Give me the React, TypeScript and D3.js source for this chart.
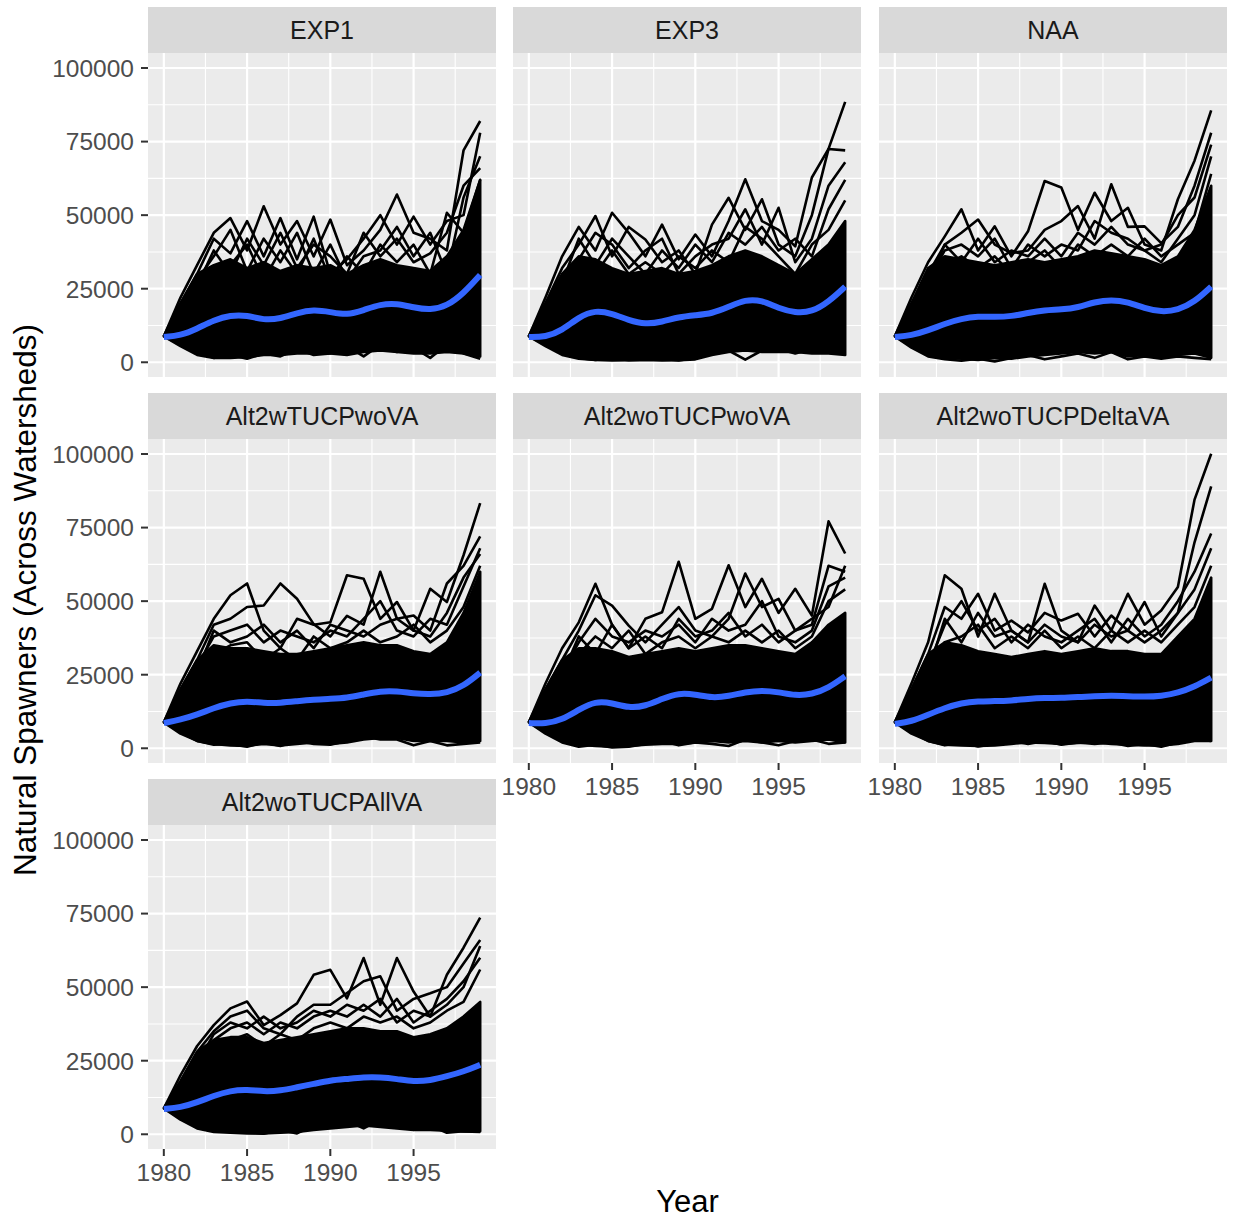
import * as d3 from "d3";

// Year axis shared by all panels
const years = [1980, 1981, 1982, 1983, 1984, 1985, 1986, 1987, 1988, 1989, 1990, 1991, 1992, 1993, 1994, 1995, 1996, 1997, 1998, 1999];

const panelNames = ["EXP1", "EXP3", "NAA", "Alt2wTUCPwoVA", "Alt2woTUCPwoVA", "Alt2woTUCPDeltaVA", "Alt2woTUCPAllVA"];

const yTicks = [0, 25000, 50000, 75000, 100000];
const yMinor = [12500, 37500, 62500, 87500];
const xTicks = [1980, 1985, 1990, 1995];
const xMinor = [1982.5, 1987.5, 1992.5, 1997.5];

// --- EXP1 ---
const exp1Smooth = [8560, 9100, 11400, 14300, 16000, 16000, 14300, 14800, 16800, 17900, 17100, 16000, 17700, 19700, 20000, 18600, 17700, 19100, 23400, 29700];
const exp1Top = [8800, 20000, 30000, 33000, 35000, 32000, 34000, 31000, 33000, 32000, 33000, 30000, 33000, 35000, 33000, 32000, 31000, 36000, 45000, 62000];
const exp1Bottom = [8800, 5500, 2500, 1500, 1500, 1800, 2500, 2500, 3000, 3000, 3000, 2500, 3500, 4000, 3500, 3000, 3000, 3500, 3000, 2000];
const exp1A = [8800, 22000, 33000, 44000, 49000, 38000, 53000, 40000, 48000, 36000, 48500, 33000, 38000, 45000, 57000, 44000, 42000, 38000, 72000, 82000];
const exp1B = [8800, 20000, 30000, 42000, 37000, 48000, 36000, 49000, 35000, 49500, 30000, 35000, 42000, 50000, 40000, 49500, 40000, 48000, 50000, 78000];
const exp1C = [8800, 18000, 28000, 36000, 45000, 31000, 42000, 34000, 44000, 30000, 40000, 28000, 36000, 38000, 46000, 36000, 44000, 30000, 56000, 70000];
const exp1D = [8800, 15000, 22000, 30000, 33000, 40000, 28000, 38000, 30000, 42000, 28000, 36000, 30000, 40000, 34000, 40000, 30000, 50800, 44000, 62000];
const exp1E = [8800, 6000, 3500, 1500, 2500, 1200, 3000, 2000, 4500, 2500, 3000, 5500, 2000, 6000, 3500, 5000, 1500, 6000, 3000, 1200];
const exp1F = [8800, 17000, 26000, 38000, 30000, 42000, 33000, 44000, 32000, 40000, 36000, 30000, 44000, 36000, 42000, 34000, 37000, 44000, 60000, 66000];

// --- EXP3 ---
const exp3Smooth = [8560, 8560, 10800, 15400, 17700, 16550, 14300, 12900, 13700, 15400, 16000, 16550, 18800, 21300, 21100, 18300, 16800, 17100, 20500, 25700];
const exp3Top = [8800, 20000, 30000, 36000, 35000, 32000, 30000, 31000, 32000, 30000, 31000, 33000, 36000, 38000, 36000, 33000, 30000, 35000, 40000, 48000];
const exp3Bottom = [8800, 6000, 3000, 1500, 800, 600, 700, 800, 600, 700, 1000, 2500, 3500, 4000, 3500, 3500, 3500, 3000, 3000, 2500];
const exp3A = [8800, 22000, 36000, 46000, 38000, 50800, 44000, 36000, 46800, 35000, 43400, 36000, 48000, 62200, 48000, 45000, 39400, 62800, 72500, 88500];
const exp3B = [8800, 20000, 32000, 40000, 49700, 36000, 46000, 41700, 34000, 38000, 30000, 46800, 55900, 45000, 55400, 40000, 36000, 50000, 72500, 72000];
const exp3C = [8800, 18000, 28000, 35000, 44000, 40000, 32000, 38000, 42000, 30000, 36000, 40000, 42000, 52000, 40000, 52500, 34000, 42000, 60000, 68000];
const exp3D = [8800, 16000, 25000, 33000, 30000, 38000, 30000, 34000, 30000, 36000, 32000, 38000, 34000, 46000, 42000, 36000, 30000, 40000, 45000, 55000];
const exp3E = [8800, 5500, 2500, 1200, 800, 1500, 700, 1000, 1200, 600, 1500, 3000, 4000, 900, 4000, 4500, 3000, 4500, 3500, 5000];
const exp3F = [8800, 17000, 27000, 42000, 33000, 42000, 36000, 30000, 38000, 32000, 40000, 34000, 44000, 40000, 46000, 38000, 42000, 36000, 52000, 62000];

// --- NAA ---
const naaSmooth = [8560, 9100, 10800, 13100, 14800, 15600, 15400, 15600, 16800, 17700, 17900, 18600, 20500, 21300, 20500, 18300, 17100, 17700, 20500, 25700];
const naaTop = [8800, 20000, 32000, 36000, 35000, 34000, 33000, 34000, 35000, 34000, 35000, 36000, 38000, 37000, 36000, 35000, 33000, 36000, 45000, 60000];
const naaBottom = [8800, 5500, 2500, 1500, 1200, 800, 1500, 1200, 2000, 2500, 3000, 3500, 3000, 3500, 2000, 2500, 1500, 2500, 3000, 1500];
const naaA = [8800, 22000, 34000, 42800, 52000, 38000, 46200, 36000, 44500, 61600, 59400, 45000, 57600, 48000, 52500, 40000, 38000, 55400, 68500, 85600];
const naaB = [8800, 20000, 30000, 40000, 44000, 48500, 40000, 37100, 38000, 45000, 48000, 53100, 42000, 60500, 46000, 46200, 40500, 46000, 60000, 78000];
const naaC = [8800, 18000, 28000, 38000, 40000, 36000, 42000, 32000, 40000, 36000, 40000, 38000, 48000, 44000, 42000, 38000, 34000, 42000, 50000, 70000];
const naaD = [8800, 16000, 24000, 33000, 36000, 32000, 36000, 30000, 34000, 38000, 32000, 40000, 36000, 40000, 36000, 42000, 36000, 40000, 44000, 64000];
const naaE = [8800, 5000, 2000, 1000, 500, 1200, 300, 1500, 2500, 1000, 2000, 3000, 1500, 3500, 1000, 2000, 1200, 2000, 1500, 1000];
const naaF = [8800, 17000, 27000, 40000, 34000, 42000, 34000, 38000, 36000, 42000, 36000, 44000, 40000, 46000, 40000, 38000, 40000, 50000, 56000, 74000];

// --- Alt2wTUCPwoVA ---
const wTucpSmooth = [8560, 9700, 11400, 13700, 15400, 16000, 15400, 15400, 16000, 16550, 16800, 17100, 18300, 19400, 19400, 18600, 18300, 18800, 21100, 25700];
const wTucpTop = [8800, 20000, 30000, 35000, 34000, 34000, 33000, 32000, 32000, 33000, 34000, 35000, 36000, 35000, 35000, 33000, 32000, 36000, 46000, 60000];
const wTucpBottom = [8800, 5500, 2500, 1500, 1000, 800, 1500, 1000, 1500, 2000, 1500, 2000, 3000, 3500, 3500, 2500, 2500, 2500, 2000, 2500];
const wTucpA = [8800, 22000, 33000, 44000, 52000, 56000, 40000, 34000, 44000, 42000, 42800, 58800, 57600, 44000, 49700, 40000, 54200, 49700, 65600, 83300];
const wTucpB = [8800, 20000, 30000, 42000, 44000, 48000, 48500, 56000, 50800, 42200, 38000, 45000, 42000, 60000, 44000, 45100, 40000, 56000, 62000, 72000];
const wTucpC = [8800, 18000, 28000, 38000, 40000, 42000, 36000, 40000, 38000, 36000, 40000, 38000, 44000, 50000, 40000, 38000, 44000, 42000, 55000, 68000];
const wTucpD = [8800, 16000, 24000, 32000, 35000, 36000, 30000, 34000, 30000, 38000, 34000, 36000, 40000, 36000, 38000, 42000, 36000, 40000, 48000, 62000];
const wTucpE = [8800, 5000, 2500, 1200, 1500, 500, 2000, 800, 2500, 1500, 1200, 2500, 4000, 3000, 3000, 1000, 2500, 1000, 1500, 2000];
const wTucpF = [8800, 17000, 26000, 40000, 36000, 38000, 42000, 36000, 40000, 34000, 42000, 40000, 38000, 42000, 44000, 40000, 38000, 46000, 58000, 66000];

// --- Alt2woTUCPwoVA ---
const woTucpSmooth = [8560, 8300, 9700, 13100, 16000, 15400, 13700, 14300, 16800, 18800, 18300, 17100, 17700, 19100, 19700, 19100, 17900, 18300, 20500, 24500];
const woTucpTop = [8800, 20000, 30000, 34000, 34000, 33000, 31000, 32000, 33000, 34000, 33000, 34000, 35000, 35000, 34000, 33000, 32000, 36000, 42000, 46000];
const woTucpBottom = [8800, 5500, 2500, 1200, 800, 500, 800, 1200, 1500, 1500, 2000, 2500, 2000, 2500, 2000, 2500, 2000, 2500, 3000, 2000];
const woTucpA = [8800, 22000, 34000, 42800, 55900, 42000, 34000, 44000, 46200, 63400, 44000, 47400, 62200, 48000, 57600, 46000, 54200, 45100, 77100, 66200];
const woTucpB = [8800, 20000, 30000, 40000, 52000, 48500, 41700, 36000, 42000, 48000, 40000, 38000, 44000, 59400, 48000, 50800, 40000, 42000, 62000, 60000];
const woTucpC = [8800, 18000, 26000, 36000, 44000, 38000, 36000, 40000, 38000, 42000, 36000, 44000, 40000, 42000, 50000, 38000, 36000, 40000, 55000, 58000];
const woTucpD = [8800, 16000, 24000, 32000, 38000, 34000, 40000, 32000, 36000, 38000, 34000, 38000, 36000, 40000, 36000, 40000, 34000, 38000, 50000, 54000];
const woTucpE = [8800, 5000, 2000, 500, 1200, 300, 500, 1500, 2500, 1000, 2000, 1500, 800, 3000, 2000, 1000, 2500, 3000, 1500, 2000];
const woTucpF = [8800, 17000, 25000, 38000, 32000, 42000, 34000, 38000, 34000, 44000, 38000, 40000, 46000, 38000, 42000, 36000, 40000, 44000, 48000, 62000];

// --- Alt2woTUCPDeltaVA ---
const deltaSmooth = [8300, 9100, 11400, 13700, 15400, 16000, 16000, 16200, 16800, 17100, 17100, 17400, 17700, 17900, 17700, 17500, 17700, 18800, 20900, 24000];
const deltaTop = [8800, 20000, 32000, 36000, 35000, 33000, 32000, 31000, 32000, 33000, 32000, 33000, 34000, 33000, 33000, 32000, 32000, 38000, 44000, 58000];
const deltaBottom = [8800, 5500, 2500, 1200, 1000, 800, 1000, 1500, 2000, 1800, 1500, 1800, 2000, 1500, 1200, 1000, 1000, 1500, 2500, 2500];
const deltaA = [8800, 22000, 36000, 58800, 54200, 38000, 52500, 40000, 36000, 55900, 40000, 36000, 48500, 40000, 52500, 42000, 46800, 54800, 84500, 100100];
const deltaB = [8800, 20000, 32000, 48000, 44000, 52500, 40000, 43400, 39400, 46000, 43400, 45700, 38000, 45100, 40000, 49700, 38000, 46000, 70000, 89000];
const deltaC = [8800, 18000, 28000, 42000, 50000, 40000, 44000, 36000, 42000, 38000, 36000, 40000, 44000, 36000, 44000, 38000, 42000, 50000, 60000, 73000];
const deltaD = [8800, 16000, 24000, 36000, 38000, 42000, 34000, 38000, 34000, 40000, 34000, 38000, 34000, 40000, 36000, 40000, 36000, 42000, 48000, 62000];
const deltaE = [8800, 5000, 2500, 1000, 2000, 600, 1500, 2500, 1500, 2500, 1200, 2000, 1500, 2000, 800, 1500, 500, 2000, 3000, 2500];
const deltaF = [8800, 17000, 26000, 44000, 36000, 46000, 38000, 40000, 36000, 42000, 38000, 36000, 42000, 38000, 40000, 36000, 40000, 46000, 54000, 68000];

// --- Alt2woTUCPAllVA ---
const allSmooth = [8560, 9100, 10800, 13100, 14800, 15200, 14500, 14800, 16000, 17100, 18300, 18800, 19400, 19400, 18800, 17900, 18300, 19700, 21300, 23600];
const allTop = [8800, 18000, 28000, 32000, 33000, 33000, 31000, 32000, 33000, 34000, 35000, 36000, 36000, 35000, 35000, 33000, 34000, 36000, 40000, 45000];
const allBottom = [8800, 5500, 2500, 1200, 800, 500, 300, 500, 800, 1500, 2000, 2500, 3000, 2500, 2000, 1500, 1500, 1200, 1000, 1000];
const allA = [8800, 20000, 30000, 37100, 42800, 45100, 37100, 40500, 44500, 54200, 55900, 46200, 59900, 44000, 59900, 48500, 40000, 54200, 63400, 73600];
const allB = [8800, 18000, 28000, 35000, 40000, 42000, 36000, 34000, 40000, 44000, 44000, 48000, 52000, 53700, 42000, 46000, 47900, 50000, 58000, 66000];
const allC = [8800, 16000, 26000, 32000, 36000, 38000, 34000, 38000, 36000, 40000, 42000, 40000, 44000, 40000, 46000, 38000, 42000, 46000, 52000, 60000];
const allD = [8800, 15000, 22000, 30000, 32000, 34000, 30000, 34000, 32000, 36000, 38000, 36000, 40000, 38000, 40000, 36000, 38000, 42000, 45000, 56000];
const allE = [8800, 5000, 2000, 800, 500, 300, 200, 1500, 300, 3000, 2500, 4500, 2000, 5000, 3500, 1500, 3000, 500, 1000, 800];
const allF = [8800, 16000, 24000, 34000, 38000, 36000, 40000, 36000, 38000, 42000, 40000, 44000, 42000, 46000, 38000, 42000, 40000, 44000, 50000, 64000];

const panels = [
  { name: panelNames[0], smooth: exp1Smooth, top: exp1Top, bottom: exp1Bottom, traces: [exp1A, exp1B, exp1C, exp1D, exp1E, exp1F] },
  { name: panelNames[1], smooth: exp3Smooth, top: exp3Top, bottom: exp3Bottom, traces: [exp3A, exp3B, exp3C, exp3D, exp3E, exp3F] },
  { name: panelNames[2], smooth: naaSmooth, top: naaTop, bottom: naaBottom, traces: [naaA, naaB, naaC, naaD, naaE, naaF] },
  { name: panelNames[3], smooth: wTucpSmooth, top: wTucpTop, bottom: wTucpBottom, traces: [wTucpA, wTucpB, wTucpC, wTucpD, wTucpE, wTucpF] },
  { name: panelNames[4], smooth: woTucpSmooth, top: woTucpTop, bottom: woTucpBottom, traces: [woTucpA, woTucpB, woTucpC, woTucpD, woTucpE, woTucpF] },
  { name: panelNames[5], smooth: deltaSmooth, top: deltaTop, bottom: deltaBottom, traces: [deltaA, deltaB, deltaC, deltaD, deltaE, deltaF] },
  { name: panelNames[6], smooth: allSmooth, top: allTop, bottom: allBottom, traces: [allA, allB, allC, allD, allE, allF] },
];

const FONT = "'Liberation Sans', Arial, Helvetica, sans-serif";
const colX = [148, 513, 879];
const rowY = [7, 393, 779];
const stripH = 46;
const panelW = 348;
const panelH = 324;

const allVals = panels.flatMap(p => [...p.traces.flat(), ...p.top, ...p.bottom]);
const vMin = 0;
const vMax = d3.max(allVals) as number;
const vPad = (vMax - vMin) * 0.05;
const xPad = (1999 - 1980) * 0.05;

const Panel = ({ p, i }: { p: typeof panels[0]; i: number }) => {
  const col = i % 3;
  const row = Math.floor(i / 3);
  const x0 = colX[col];
  const top = rowY[row] + stripH;
  const x = d3.scaleLinear().domain([1980 - xPad, 1999 + xPad]).range([x0, x0 + panelW]);
  const y = d3.scaleLinear().domain([vMin - vPad, vMax + vPad]).range([top + panelH, top]);
  const line = d3.line<number>().x((_, k) => x(years[k])).y(d => y(d));
  const smoothLine = d3.line<number>().x((_, k) => x(years[k])).y(d => y(d)).curve(d3.curveBasis);
  const band = d3.area<number>().x((_, k) => x(years[k])).y0((_, k) => y(p.bottom[k])).y1(d => y(d));
  const showY = col === 0;
  const showX = i + 3 >= panels.length;

  return (
    <g>
      <rect x={x0} y={rowY[row]} width={panelW} height={stripH} fill="#D9D9D9" />
      <text x={x0 + panelW / 2} y={rowY[row] + stripH / 2} dy="0.36em" textAnchor="middle" fontSize={25} fill="#1A1A1A" fontFamily={FONT}>{p.name}</text>
      <rect x={x0} y={top} width={panelW} height={panelH} fill="#EBEBEB" />
      {yMinor.map(v => <line key={"ym" + v} x1={x0} x2={x0 + panelW} y1={y(v)} y2={y(v)} stroke="#fff" strokeWidth={1.1} />)}
      {xMinor.map(v => <line key={"xm" + v} x1={x(v)} x2={x(v)} y1={top} y2={top + panelH} stroke="#fff" strokeWidth={1.1} />)}
      {yTicks.map(v => <line key={"yM" + v} x1={x0} x2={x0 + panelW} y1={y(v)} y2={y(v)} stroke="#fff" strokeWidth={2.2} />)}
      {xTicks.map(v => <line key={"xM" + v} x1={x(v)} x2={x(v)} y1={top} y2={top + panelH} stroke="#fff" strokeWidth={2.2} />)}
      <path d={band(p.top) ?? ""} fill="#000" stroke="#000" strokeWidth={2.6} strokeLinejoin="round" />
      {p.traces.map((t, k) => (
        <path key={k} d={line(t) ?? ""} fill="none" stroke="#000" strokeWidth={2.6} strokeLinejoin="round" />
      ))}
      <path d={smoothLine(p.smooth) ?? ""} fill="none" stroke="#3366FF" strokeWidth={6} strokeLinecap="butt" />
      {showY && yTicks.map(v => (
        <g key={"yt" + v}>
          <line x1={x0 - 7} x2={x0} y1={y(v)} y2={y(v)} stroke="#333333" strokeWidth={2} />
          <text x={x0 - 14} y={y(v)} dy="0.36em" textAnchor="end" fontSize={24.5} fill="#4D4D4D" fontFamily={FONT}>{v}</text>
        </g>
      ))}
      {showX && xTicks.map(v => (
        <g key={"xt" + v}>
          <line x1={x(v)} x2={x(v)} y1={top + panelH} y2={top + panelH + 7} stroke="#333333" strokeWidth={2} />
          <text x={x(v)} y={top + panelH + 23} dy="0.36em" textAnchor="middle" fontSize={24.5} fill="#4D4D4D" fontFamily={FONT}>{v}</text>
        </g>
      ))}
    </g>
  );
};

export default function App() {
  return (
    <svg width={1233} height={1222} style={{ position: "absolute", left: 0, top: 0, background: "#fff" }}>
      <rect width={1233} height={1222} fill="#fff" />
      {panels.map((p, i) => <Panel key={p.name} p={p} i={i} />)}
      <text x={687.5} y={1212} textAnchor="middle" fontSize={31} fill="#000" fontFamily={FONT}>Year</text>
      <text transform="translate(25,600) rotate(-90)" dy="0.36em" textAnchor="middle" fontSize={31.5} fill="#000" fontFamily={FONT}>Natural Spawners (Across Watersheds)</text>
    </svg>
  );
}
